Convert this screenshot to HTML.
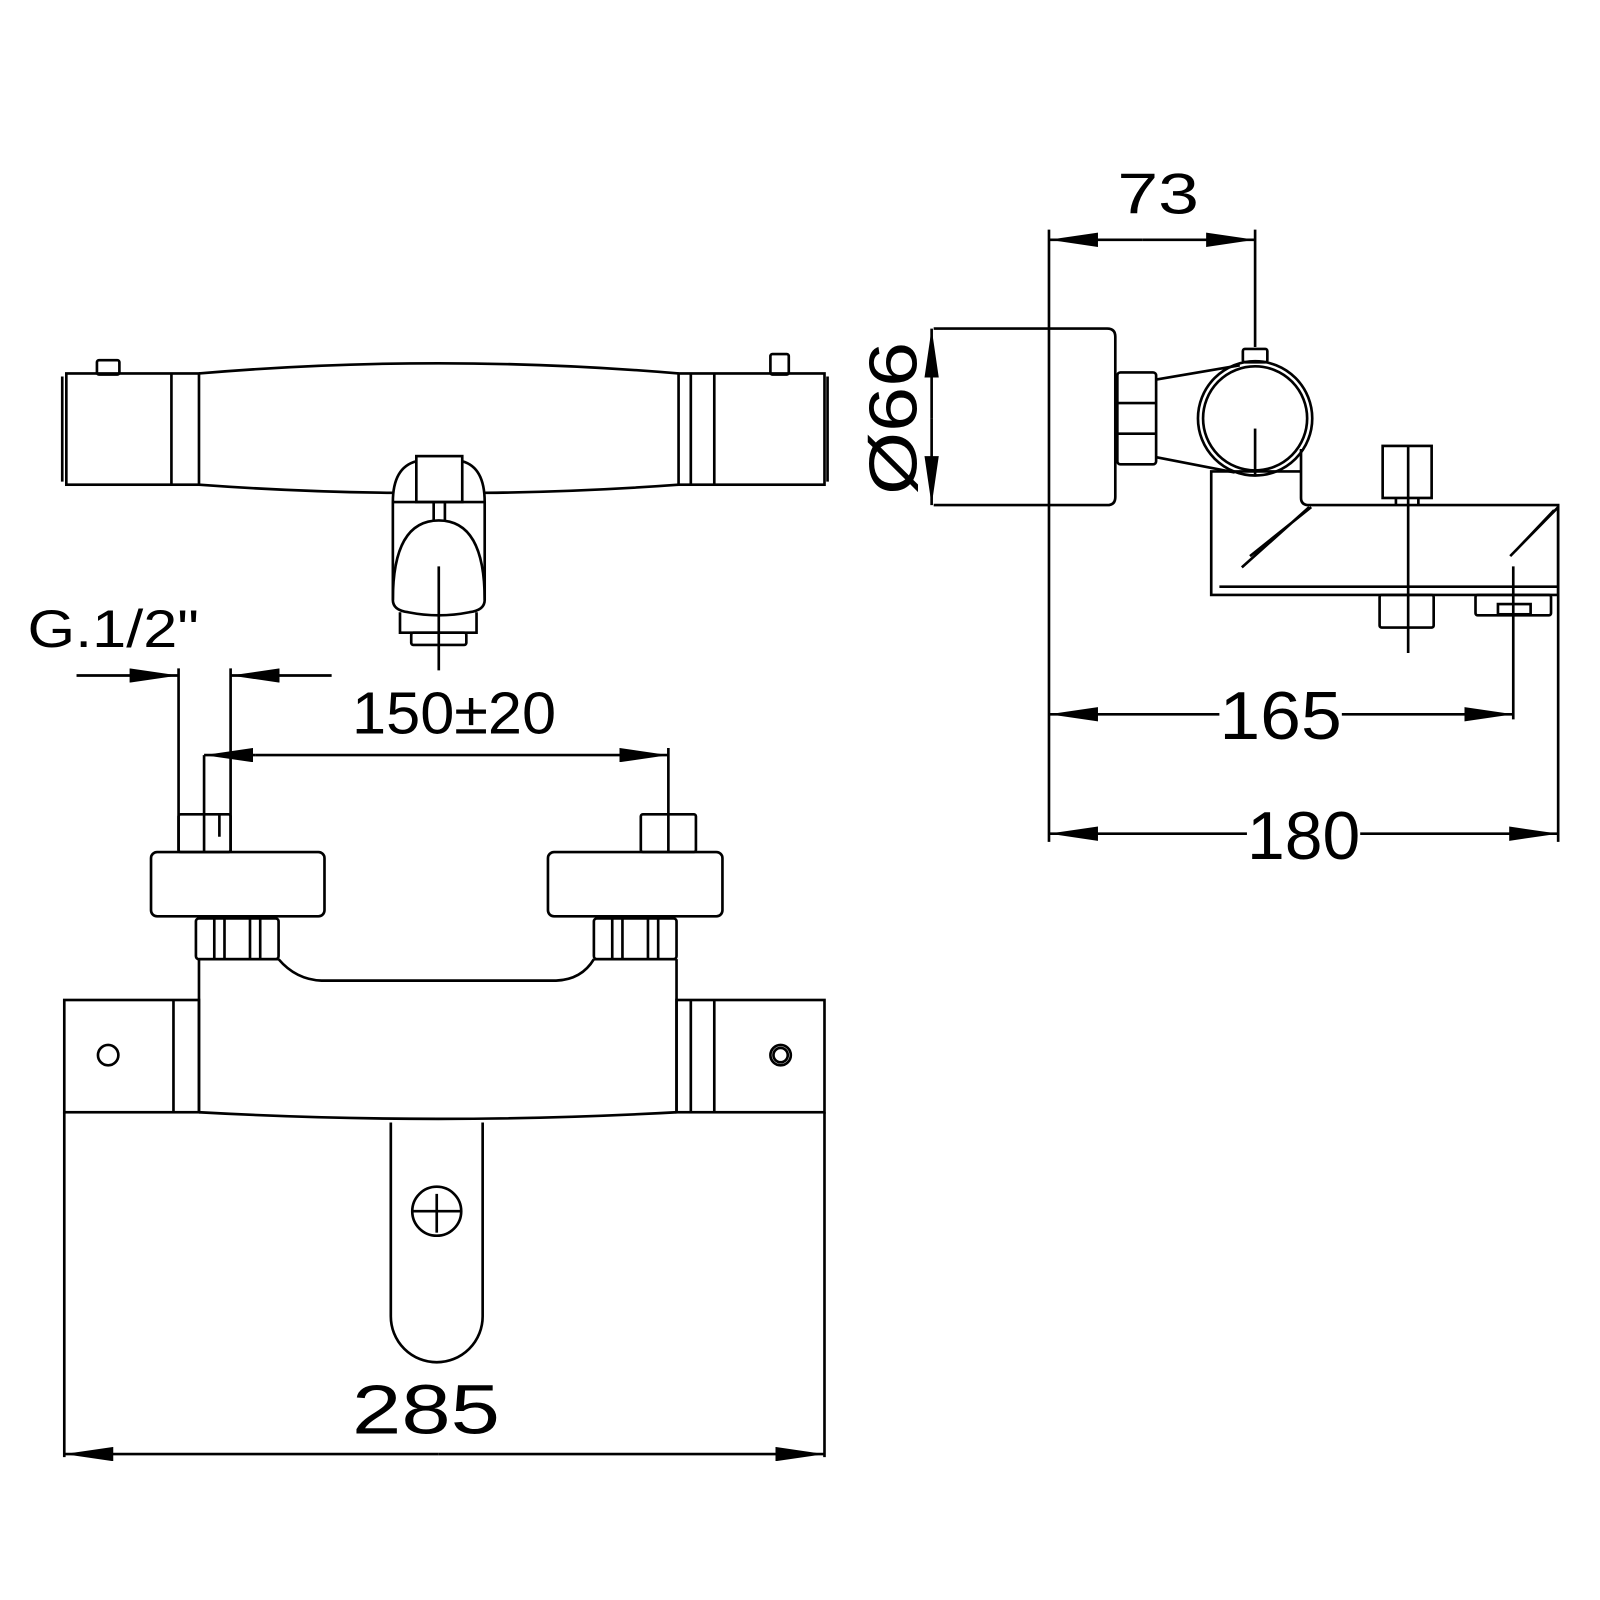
<!DOCTYPE html>
<html><head><meta charset="utf-8"><style>
html,body{margin:0;padding:0;background:#fff;}
svg{display:block;}
text{font-family:"Liberation Sans",sans-serif;fill:#000;}
</style></head><body>
<svg width="1600" height="1600" viewBox="0 0 1568 1568" xmlns="http://www.w3.org/2000/svg">
<defs>
<marker id="a" viewBox="0 0 48 14" refX="48" refY="7" markerWidth="48" markerHeight="14" markerUnits="userSpaceOnUse" orient="auto-start-reverse"><path d="M0,0 L48,7 L0,14 Z" fill="#000"/></marker>
</defs>
<g fill="none" stroke="#000" stroke-width="2.6">
<!-- TOP VIEW -->
<rect x="95" y="353" width="22" height="14" rx="2"/>
<rect x="755" y="347" width="18" height="20" rx="2"/>
<rect x="65" y="366" width="130" height="109"/>
<line x1="61" y1="369" x2="61" y2="472"/>
<line x1="168" y1="366" x2="168" y2="475"/>
<path d="M195,366 Q430,346 665,366"/>
<path d="M195,475 Q290,482 385,483"/>
<path d="M475,483 Q570,482 665,475"/>
<rect x="665" y="366" width="143" height="109"/>
<line x1="677" y1="366" x2="677" y2="475"/>
<line x1="700" y1="366" x2="700" y2="475"/>
<line x1="811" y1="369" x2="811" y2="472"/>
<path d="M385,492 Q385,458 408,452"/>
<path d="M475,492 Q475,458 453,452"/>
<rect x="408" y="447" width="45" height="45"/>
<line x1="385" y1="492" x2="475" y2="492"/>
<line x1="385" y1="492" x2="385" y2="588"/>
<line x1="475" y1="492" x2="475" y2="588"/>
<line x1="425" y1="492" x2="425" y2="510"/>
<line x1="436" y1="492" x2="436" y2="510"/>
<path d="M385,588 Q385,510 430,510 Q475,510 475,588"/>
<path d="M385,588 Q385,598 400,600 Q430,606 460,600 Q475,598 475,588"/>
<path d="M392,600 L392,620 L467,620 L467,600"/>
<rect x="403" y="620" width="54" height="12" rx="2"/>
<line x1="430" y1="555" x2="430" y2="657"/>

<!-- G1/2 dim -->
<line x1="75" y1="662" x2="175" y2="662" marker-end="url(#a)"/>
<line x1="325" y1="662" x2="226" y2="662" marker-end="url(#a)"/>
<line x1="175" y1="655" x2="175" y2="835"/>
<line x1="226" y1="655" x2="226" y2="835"/>
<!-- 150 dim -->
<line x1="250" y1="740" x2="200" y2="740" marker-end="url(#a)"/>
<line x1="250" y1="740" x2="655" y2="740" marker-end="url(#a)"/>
<line x1="655" y1="733" x2="655" y2="835"/>
<line x1="200" y1="740" x2="200" y2="835"/>

<!-- FRONT VIEW -->
<rect x="175" y="798" width="51" height="37" rx="2"/>
<rect x="628" y="798" width="54" height="37" rx="2"/>
<line x1="215" y1="798" x2="215" y2="820"/>
<rect x="148" y="835" width="170" height="63" rx="6"/>
<rect x="537" y="835" width="171" height="63" rx="6"/>
<rect x="192" y="900" width="81" height="40" rx="3"/>
<line x1="210" y1="900" x2="210" y2="940"/><line x1="255" y1="900" x2="255" y2="940"/>
<line x1="220" y1="900" x2="220" y2="940"/><line x1="245" y1="900" x2="245" y2="940"/>
<rect x="582" y="900" width="81" height="40" rx="3"/>
<line x1="600" y1="900" x2="600" y2="940"/><line x1="645" y1="900" x2="645" y2="940"/>
<line x1="610" y1="900" x2="610" y2="940"/><line x1="635" y1="900" x2="635" y2="940"/>
<path d="M195,940 L195,1090 M663,940 L663,1090 M195,940 L273,940 M582,940 L663,940"/>
<path d="M273,940 Q290,960 315,961 L545,961 Q570,960 582,940"/>
<path d="M195,1090 Q430,1103 663,1090"/>
<rect x="63" y="980" width="132" height="110"/>
<line x1="170" y1="980" x2="170" y2="1090"/>
<rect x="663" y="980" width="145" height="110"/>
<line x1="677" y1="980" x2="677" y2="1090"/><line x1="700" y1="980" x2="700" y2="1090"/>
<circle cx="106" cy="1034" r="10"/>
<circle cx="765" cy="1034" r="10"/><circle cx="765" cy="1034" r="7"/>
<path d="M383,1100 L383,1290 A45,45 0 0 0 473,1290 L473,1100"/>
<circle cx="428" cy="1187" r="24"/>
<line x1="404" y1="1187" x2="452" y2="1187"/><line x1="428" y1="1170" x2="428" y2="1208"/>
<line x1="63" y1="1090" x2="63" y2="1428"/>
<line x1="808" y1="1090" x2="808" y2="1428"/>
<line x1="430" y1="1425" x2="63" y2="1425" marker-end="url(#a)"/>
<line x1="430" y1="1425" x2="808" y2="1425" marker-end="url(#a)"/>

<!-- SIDE VIEW -->
<line x1="1028" y1="225" x2="1028" y2="825"/>
<line x1="1120" y1="235" x2="1028" y2="235" marker-end="url(#a)"/>
<line x1="1120" y1="235" x2="1230" y2="235" marker-end="url(#a)"/>
<line x1="1230" y1="225" x2="1230" y2="340"/>
<path d="M915,322 L1085,322 Q1093,322 1093,330 L1093,487 Q1093,495 1085,495 L915,495"/>
<line x1="913" y1="410" x2="913" y2="322" marker-end="url(#a)"/>
<line x1="913" y1="410" x2="913" y2="495" marker-end="url(#a)"/>
<rect x="1095" y="365" width="38" height="90" rx="3"/>
<line x1="1095" y1="395" x2="1133" y2="395"/><line x1="1095" y1="425" x2="1133" y2="425"/>
<line x1="1133" y1="372" x2="1215" y2="358"/>
<line x1="1133" y1="448" x2="1210" y2="463"/>
<rect x="1218" y="342" width="24" height="13" rx="2"/>
<circle cx="1230" cy="410" r="56"/>
<circle cx="1230" cy="410" r="51"/>
<line x1="1230" y1="420" x2="1230" y2="465"/>
<path d="M1275,440 L1275,488 Q1275,495 1283,495 L1527,495 L1527,583 L1187,583 L1187,462 L1275,462"/>
<line x1="1195" y1="575" x2="1527" y2="575"/>
<path d="M1283,497 L1217,556 M1285,497 L1225,545"/>
<path d="M1527,497 L1480,545 M1523,500 L1485,540"/>
<rect x="1355" y="437" width="48" height="51"/>
<line x1="1368" y1="488" x2="1368" y2="495"/><line x1="1390" y1="488" x2="1390" y2="495"/>
<line x1="1380" y1="437" x2="1380" y2="640"/>
<rect x="1352" y="583" width="53" height="32" rx="2"/>
<rect x="1446" y="583" width="74" height="20" rx="2"/>
<rect x="1468" y="592" width="32" height="10"/>
<line x1="1483" y1="555" x2="1483" y2="705"/>
<line x1="1527" y1="495" x2="1527" y2="825"/>
<line x1="1195" y1="700" x2="1028" y2="700" marker-end="url(#a)"/>
<line x1="1315" y1="700" x2="1483" y2="700" marker-end="url(#a)"/>
<line x1="1222" y1="817" x2="1028" y2="817" marker-end="url(#a)"/>
<line x1="1333" y1="817" x2="1527" y2="817" marker-end="url(#a)"/>
</g>
<g font-size="58">
<text x="27" y="634" textLength="168" lengthAdjust="spacingAndGlyphs" font-size="52">G.1/2"</text>
<text x="345" y="719" textLength="200" lengthAdjust="spacingAndGlyphs">150±20</text>
<text x="345" y="1405" textLength="145" lengthAdjust="spacingAndGlyphs" font-size="68">285</text>
<text x="1095" y="209" textLength="80" lengthAdjust="spacingAndGlyphs" font-size="56">73</text>
<text x="1195" y="724" textLength="120" lengthAdjust="spacingAndGlyphs" font-size="66">165</text>
<text x="1222" y="842" textLength="111" lengthAdjust="spacingAndGlyphs" font-size="66">180</text>
<text transform="translate(898,485) rotate(-90)" textLength="150" lengthAdjust="spacingAndGlyphs" font-size="66">Ø66</text>
</g>
</svg>
</body></html>
